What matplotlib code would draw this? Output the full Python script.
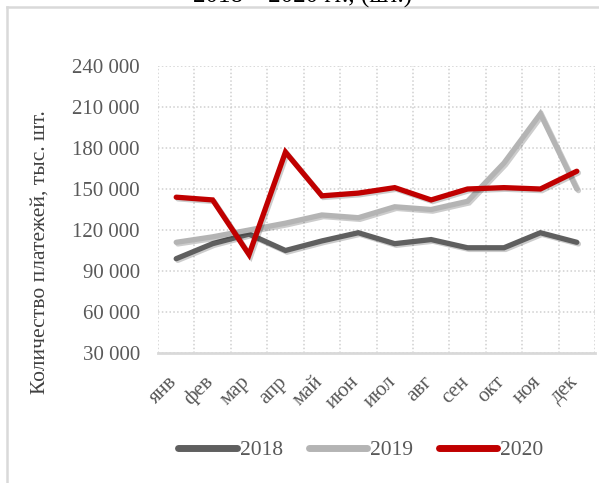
import matplotlib
matplotlib.use('Agg')
from matplotlib import pyplot as plt
import matplotlib.patheffects as pe
import matplotlib.transforms as mtransforms
from matplotlib.lines import Line2D
import numpy as np

# monthly values
months = ['янв', 'фев', 'мар', 'апр', 'май', 'июн', 'июл', 'авг', 'сен', 'окт', 'ноя', 'дек']
y2018 = [99000, 110000, 117000, 105000, 112000, 118000, 110000, 113000, 107000, 107000, 118000, 111000]
y2019 = [111000, 115000, 120000, 125000, 131000, 129000, 137000, 135000, 141000, 169000, 205000, 150000]
y2020 = [144000, 142000, 102000, 177000, 145000, 147000, 151000, 142000, 150000, 151000, 150000, 163000]
yticks = [30000, 60000, 90000, 120000, 150000, 180000, 210000, 240000]

plt.rcParams['font.family'] = ['Liberation Serif', 'DejaVu Serif']

W, H = 599, 483
fig = plt.figure(figsize=(W / 100, H / 100), dpi=100)
ax = fig.add_axes([158 / W, (H - 353) / H, (595 - 158) / W, (353 - 66) / H])

x = np.arange(len(months))
shadow = [pe.SimpleLineShadow(offset=(1.2, -1.2), shadow_color='black', alpha=0.2), pe.Normal()]
series = [(y2018, '#5f5f5f', '2018'), (y2019, '#b4b4b4', '2019'), (y2020, '#c00000', '2020')]
for vals, col, lab in series:
    ax.plot(x, vals, color=col, lw=3.8, label=lab, solid_capstyle='round',
            solid_joinstyle='miter', path_effects=shadow)

ax.set_xlim(-0.5, 11.5)
ax.set_ylim(30000, 240000)
ax.set_yticks(yticks)
ax.set_yticklabels([f'{v:,}'.replace(',', ' ') for v in yticks])
ax.set_xticks(x)
ax.set_xticks(np.arange(-0.5, 12, 1), minor=True)

ax.grid(axis='y', which='major', color='#d0d0d0', ls=(0, (1, 1.5)), lw=1.1)
ax.grid(axis='x', which='minor', color='#d0d0d0', ls=(0, (1, 1.5)), lw=1.1)
ax.set_axisbelow(True)
for s in ['left', 'right', 'top']:
    ax.spines[s].set_visible(False)
ax.spines['bottom'].set_color('#d9d9d9')
ax.spines['bottom'].set_linewidth(2)

ax.tick_params(axis='both', which='both', length=0)
ax.tick_params(axis='y', pad=13, labelsize=15, labelcolor='#595959')
ax.tick_params(axis='x', pad=14, labelsize=15, labelcolor='#595959')

offset = mtransforms.ScaledTranslation(5 / 100, 0, fig.dpi_scale_trans)
ax.set_xticklabels(months, rotation=45, ha='right')
for lbl in ax.get_xticklabels():
    lbl.set_transform(lbl.get_transform() + offset)

ax.set_ylabel('Количество платежей, тыс. шт.', fontsize=15.5, color='#404040')
ax.yaxis.set_label_coords(-(158 - 50) / (595 - 158), 0.35)

leg = fig.legend(loc='center', bbox_to_anchor=(361 / W, (H - 450) / H), ncol=3, frameon=False,
                 fontsize=15.5, handlelength=2.7, handletextpad=0.15, columnspacing=1.2,
                 labelcolor='#595959')
for h in leg.get_lines():
    h.set_linewidth(5)
    h.set_path_effects([])

# title, mostly cut off by the top edge
fig.text(0.505, 1 - 3 / H, '2018 – 2020 гг., (шт.)', ha='center', va='baseline',
         fontsize=18, color='black')

# outer chart frame
fig.add_artist(Line2D([7 / W, 7 / W], [1 - 7 / H, 1 / H], transform=fig.transFigure,
                      color='#d9d9d9', lw=1.8))
fig.add_artist(Line2D([7 / W, 1], [1 - 7 / H, 1 - 7 / H], transform=fig.transFigure,
                      color='#d9d9d9', lw=1.8))

fig.savefig('out.png', dpi=100)
